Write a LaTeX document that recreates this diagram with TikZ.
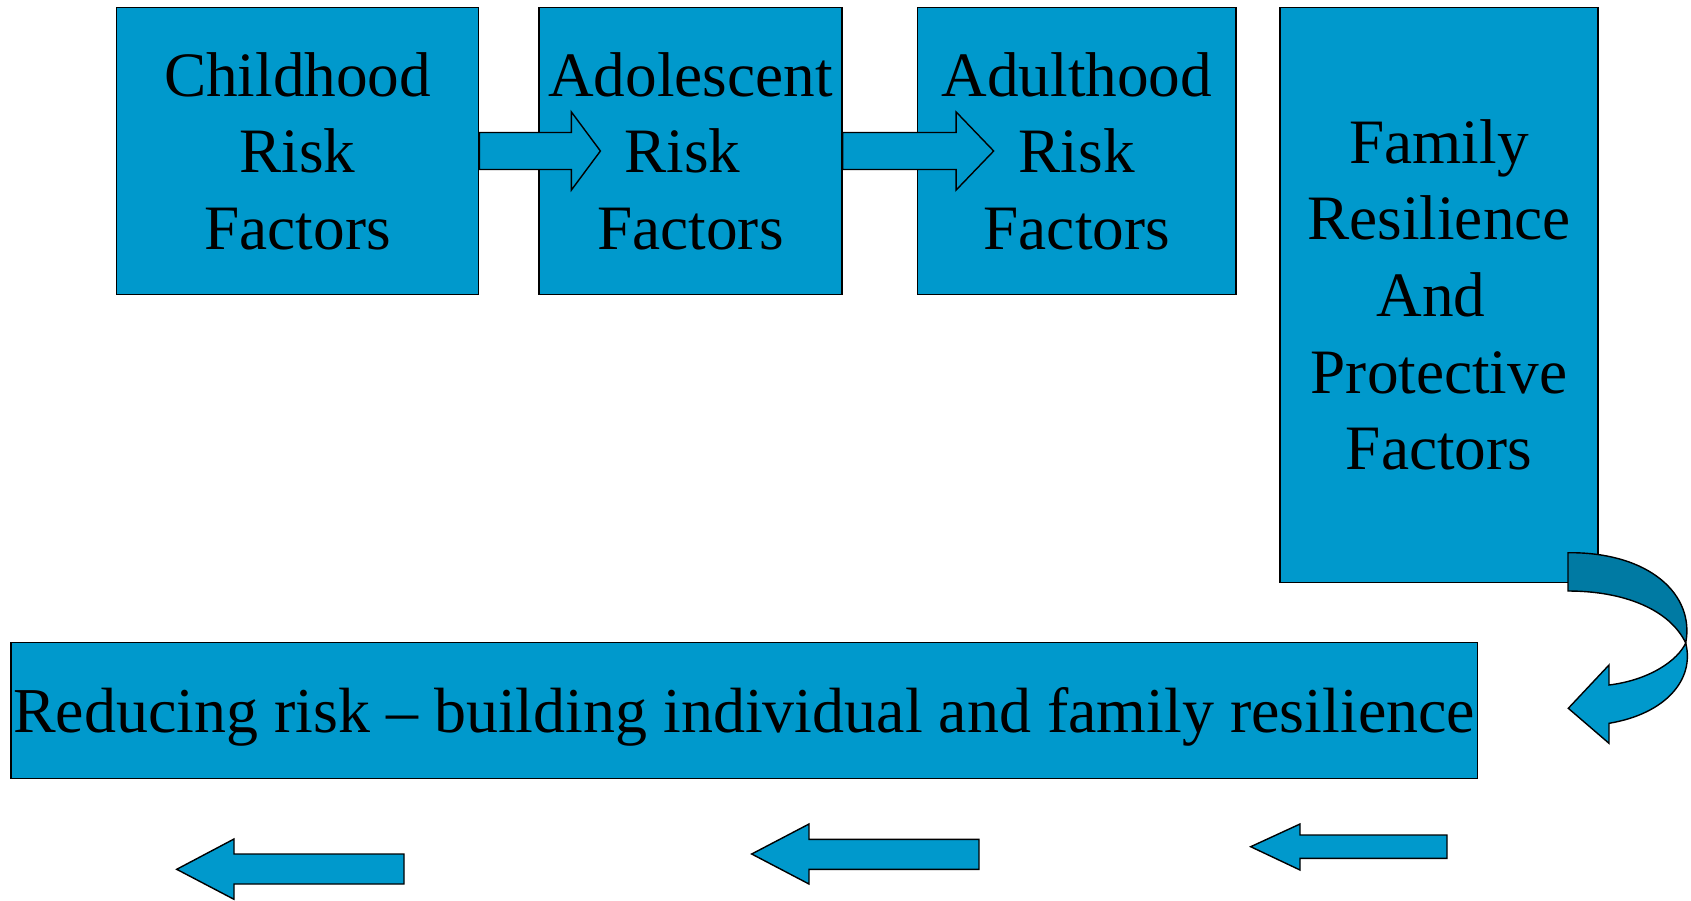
\documentclass[tikz,border=0pt]{standalone}
\usepackage{fontspec}
\setmainfont{Liberation Serif}
\definecolor{boxblue}{RGB}{0,153,204}
\definecolor{ribbondark}{RGB}{0,122,163}
\begin{document}
\begin{tikzpicture}[x=0.02cm,y=-0.02cm,
    riskbox/.style={draw=black,line width=0.8pt,fill=boxblue,inner sep=0pt,
      align=center,font=\fontsize{36}{43.6}\selectfont},
    blockarrow/.style={draw=black,line width=0.8pt,fill=boxblue,line join=miter}]
  \useasboundingbox (0,0) rectangle (1691,900);

  % risk stages
  \node[riskbox,minimum width=7.246cm,minimum height=5.738cm] (child) at (297.6,151) {Childhood\\Risk\\Factors};
  \node[riskbox,minimum width=6.06cm,minimum height=5.738cm] (adol) at (690.5,151) {Adolescent\\Risk\kern0.25em\\Factors};
  \node[riskbox,minimum width=6.364cm,minimum height=5.738cm] (adult) at (1076.8,151) {Adulthood\\Risk\\Factors};
  \node[riskbox,minimum width=6.36cm,minimum height=11.496cm] (family) at (1439,294.9) {Family\\Resilience\\And\kern0.25em\\Protective\\Factors};
  \node[riskbox,minimum width=29.332cm,minimum height=2.718cm,font=\fontsize{36.4}{43.6}\selectfont] (reduce) at (744.1,710.65)
    {\raisebox{-3.7pt}[\height][\depth]{Reducing risk -- building individual and family resilience}};

  % arrows between stages
  \draw[blockarrow] (child.east) ++(0,-18.5) -- ++(92,0) -- ++(0,-20.5) -- ++(29,39) -- ++(-29,39) -- ++(0,-20.5) -- ++(-92,0) -- cycle;
  \draw[blockarrow] (adol.east) ++(0,-18.5) -- ++(113.5,0) -- ++(0,-20.5) -- ++(37.5,39) -- ++(-37.5,39) -- ++(0,-20.5) -- ++(-113.5,0) -- cycle;

  % curved arrow
  \draw[line width=0.8pt,fill=ribbondark] (1568,552.7) .. controls (1650,552) and (1695,595) .. (1685.7,643)
    .. controls (1670,610) and (1625,591) .. (1568,591) -- cycle;
  \draw[blockarrow] (1685.7,643) .. controls (1678,660) and (1650,680) .. (1609,685) -- (1609,665) -- (1568.3,708.3)
    -- (1609,743.3) -- (1609,723.3) .. controls (1665,714) and (1695,680) .. (1685.7,643) -- cycle;

  % arrows along the bottom
  \draw[blockarrow] (176.7,869.3) -- (234,839) -- (234,854) -- (404,854) -- (404,884) -- (234,884) -- (234,899.3) -- cycle;
  \draw[blockarrow] (751.7,854) -- (809,824) -- (809,839.3) -- (979,839.3) -- (979,869.3) -- (809,869.3) -- (809,884) -- cycle;
  \draw[blockarrow] (1250.7,846.7) -- (1300,824) -- (1300,835) -- (1447,835) -- (1447,858.3) -- (1300,858.3) -- (1300,870) -- cycle;
\end{tikzpicture}
\end{document}
